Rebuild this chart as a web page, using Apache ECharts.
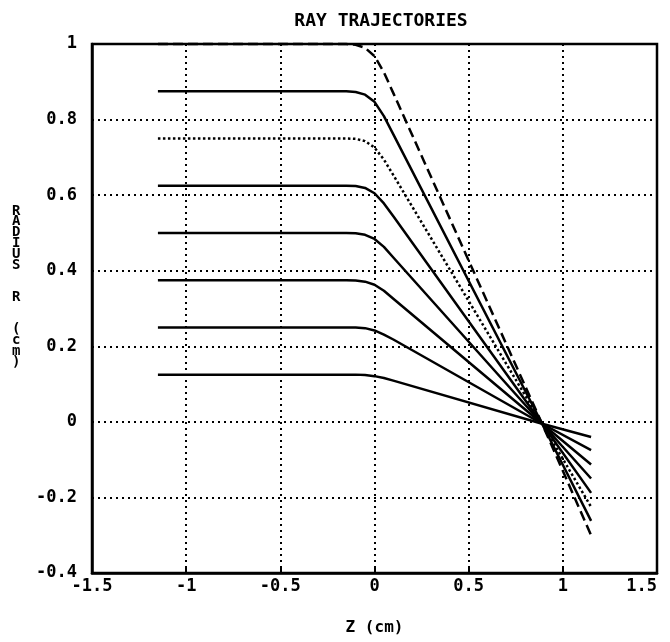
<!DOCTYPE html>
<html>
<head>
<meta charset="utf-8">
<script src="https://cdn.jsdelivr.net/npm/echarts@6/dist/echarts.min.js"></script>
<style>html,body{margin:0;padding:0;background:#fff;}#c{width:670px;height:642px;}</style>
</head>
<body>
<div id="c"></div>
<script>
// Axial positions (cm) at which each ray was read
var zSamples = [-1.15, -0.15, -0.1, -0.05, 0, 0.05, 0.1, 0.89, 1.15];
// Radius of each ray (cm) at those positions
var ray100 = [1, 1, 0.998, 0.99, 0.968, 0.925, 0.87, -0.005, -0.30];
var ray875 = [0.875, 0.875, 0.873, 0.866, 0.847, 0.809, 0.761, -0.005, -0.262];
var ray750 = [0.75, 0.75, 0.749, 0.743, 0.726, 0.694, 0.653, -0.005, -0.225];
var ray625 = [0.625, 0.625, 0.624, 0.619, 0.605, 0.578, 0.544, -0.005, -0.188];
var ray500 = [0.5, 0.5, 0.499, 0.495, 0.484, 0.463, 0.435, -0.005, -0.15];
var ray375 = [0.375, 0.375, 0.374, 0.371, 0.363, 0.347, 0.326, -0.005, -0.113];
var ray250 = [0.25, 0.25, 0.25, 0.248, 0.242, 0.231, 0.218, -0.005, -0.075];
var ray125 = [0.125, 0.125, 0.125, 0.124, 0.121, 0.116, 0.109, -0.005, -0.04];
var rays = [ray100, ray875, ray750, ray625, ray500, ray375, ray250, ray125];
var rayStyles = ['dashed', 'solid', 'dotted', 'solid', 'solid', 'solid', 'solid', 'solid'];
var xTicks = [-1.5, -1, -0.5, 0, 0.5, 1, 1.5];
var yTicks = [-0.4, -0.2, 0, 0.2, 0.4, 0.6, 0.8, 1];
var yTitleChars = ['R','A','D','I','U','S','','','R','','','(','c','m',')'];

function fmt(v) {
  return String(Math.round(v * 10) / 10);
}
var font = '"DejaVu Sans Mono", monospace';

var chart = echarts.init(document.getElementById('c'), null, {renderer: 'canvas'});
var series = rays.map(function (r, i) {
  return {
    type: 'line',
    data: zSamples.map(function (z, j) { return [z, r[j]]; }),
    showSymbol: false,
    smooth: false,
    clip: false,
    lineStyle: {color: '#000', width: 2.5, type: rayStyles[i], join: 'round'},
    z: 5
  };
});

chart.setOption({
  backgroundColor: '#fff',
  animation: false,
  title: {
    text: 'RAY TRAJECTORIES',
    left: 376, top: 7, textAlign: 'center',
    textStyle: {fontFamily: font, fontWeight: 'bold', fontSize: 18, color: '#000'}
  },
  grid: {left: 92, right: 13, top: 44, bottom: 69, show: true, borderColor: '#000', borderWidth: 2.5,
         containLabel: false, outerBoundsMode: 'none'},
  xAxis: {
    type: 'value', min: -1.5, max: 1.5, interval: 0.5,
    name: 'Z (cm)', nameLocation: 'middle', nameGap: 47,
    nameTextStyle: {fontFamily: font, fontWeight: 'bold', fontSize: 16, color: '#000'},
    axisLine: {onZero: false, lineStyle: {color: '#000', width: 2.5}},
    axisTick: {show: true, inside: true, length: 5, lineStyle: {color: '#000', width: 2}},
    axisLabel: {formatter: fmt, margin: 5, fontFamily: font, fontWeight: 'bold', fontSize: 17, color: '#000',
                alignMaxLabel: 'right', hideOverlap: false},
    splitLine: {show: true, lineStyle: {color: '#000', width: 2, type: [2, 4]}}
  },
  yAxis: {
    type: 'value', min: -0.4, max: 1, interval: 0.2,
    axisLine: {show: true, onZero: false, lineStyle: {color: '#000', width: 2.5}},
    axisTick: {show: false},
    axisLabel: {formatter: fmt, margin: 15, fontFamily: font, fontWeight: 'bold', fontSize: 17, color: '#000'},
    splitLine: {show: true, lineStyle: {color: '#000', width: 2, type: [2, 4]}}
  },
  graphic: [{
    type: 'text', left: 12, top: 204,
    style: {
      text: yTitleChars.join('\n'),
      font: 'bold 14px ' + font, fill: '#000', lineHeight: 10.8, align: 'center'
    }
  }],
  series: series
});
</script>
</body>
</html>
